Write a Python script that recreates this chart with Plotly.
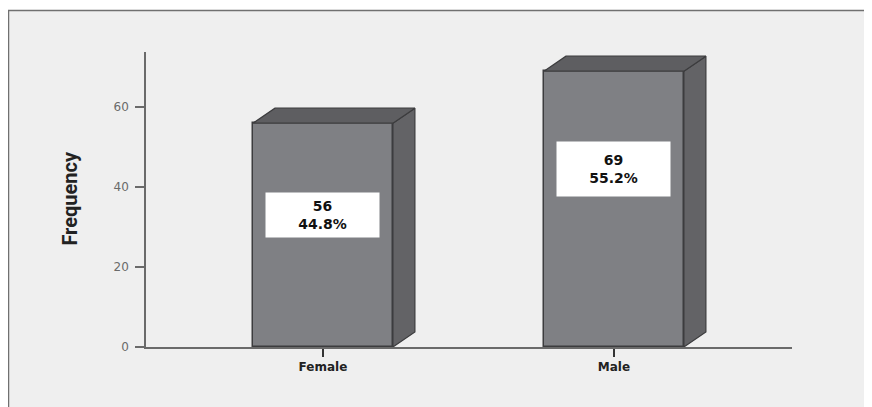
import plotly.graph_objects as go

categories = ["Female", "Male"]
counts = [56, 69]
percents = ["44.8%", "55.2%"]
y_ticks = [0, 20, 40, 60]

# style / geometry parameters (page body has an 8px margin)
OFF = 8
W, H = 872 - OFF, 407 - OFF
L, R, T, B = 146 - OFF, 80, 52 - OFF, 60
X_RANGE = [-0.608, 1.612]
Y_RANGE = [0, 73.8]
BAR_W = 0.481
DEPTH_X = 0.0756
DEPTH_Y = 3.75
LABEL_DROP = [23.0, 24.5]
LABEL_H = [40, 50]

FRONT = "#7f8084"
TOP = "#5e5e61"
SIDE = "#636366"
EDGE = "#3c3c3e"
AXIS = "#6a6a6a"

xs = list(range(len(categories)))
pw = W - L - R
ph = H - T - B

fig = go.Figure()

# top and side faces of the pseudo-3D bars, built from the data values
top_x, top_y, side_x, side_y = [], [], [], []
for c, v in zip(xs, counts):
    hw = BAR_W / 2
    top_x += [c - hw, c - hw + DEPTH_X, c + hw + DEPTH_X, c + hw, c - hw, None]
    top_y += [v, v + DEPTH_Y, v + DEPTH_Y, v, v, None]
    side_x += [c + hw, c + hw, c + hw + DEPTH_X, c + hw + DEPTH_X, c + hw, None]
    side_y += [0, v, v + DEPTH_Y, DEPTH_Y, 0, None]

fig.add_trace(go.Scatter(x=side_x, y=side_y, mode="lines", fill="toself",
                         fillcolor=SIDE, line=dict(color=EDGE, width=1.2),
                         hoverinfo="skip", showlegend=False))
fig.add_trace(go.Scatter(x=top_x, y=top_y, mode="lines", fill="toself",
                         fillcolor=TOP, line=dict(color=EDGE, width=1.2),
                         hoverinfo="skip", showlegend=False))
fig.add_trace(go.Bar(x=xs, y=counts, width=BAR_W,
                     marker=dict(color=FRONT, line=dict(color=EDGE, width=1.5)),
                     showlegend=False))

# value labels in white boxes
for c, v, p, d, h in zip(xs, counts, percents, LABEL_DROP, LABEL_H):
    fig.add_annotation(x=c, y=v - d, xref="x", yref="y",
                       text=f"{v}<br>{p}", showarrow=False,
                       font=dict(family="DejaVu Sans", size=14, color="#111111", weight="bold"),
                       bgcolor="white", width=109, height=h, borderpad=2,
                       align="center", valign="middle")

# y axis title
fig.add_annotation(x=(70 - OFF - L) / pw, y=0.503, xref="paper", yref="paper",
                   text="Frequency", textangle=-90, showarrow=False,
                   xanchor="center", yanchor="middle",
                   font=dict(family="Liberation Sans Narrow, Arial Narrow, Roboto, sans-serif",
                             size=20, color="#222222", weight="bold"))

# outer frame with light grey background
fig.add_shape(type="rect", xref="paper", yref="paper", layer="below",
              x0=(0.5 - L) / pw, x1=(W + 10 - L) / pw,
              y0=(H - B - (H + 10)) / ph, y1=(H - B - 2.5) / ph,
              fillcolor="#efefef", line=dict(color="#707070", width=1.5))

fig.update_layout(
    width=W, height=H,
    margin=dict(l=L, r=R, t=T, b=B, pad=0),
    paper_bgcolor="white",
    plot_bgcolor="rgba(0,0,0,0)",
    bargap=0,
    xaxis=dict(range=X_RANGE, tickvals=xs, ticktext=categories,
               showgrid=False, zeroline=False, showline=True,
               linecolor=AXIS, linewidth=1.5,
               ticks="outside", ticklen=8, tickwidth=1.5, tickcolor="#333333",
               tickfont=dict(family="DejaVu Sans", size=12, color="#222222", weight="bold"),
               ticklabelstandoff=0,
               fixedrange=True),
    yaxis=dict(range=Y_RANGE, tickvals=y_ticks,
               showgrid=False, zeroline=False, showline=True,
               linecolor=AXIS, linewidth=1.5,
               ticks="outside", ticklen=9, tickwidth=1.5, tickcolor=AXIS,
               tickfont=dict(family="DejaVu Sans", size=12, color="#6a6a6a"),
               ticklabelstandoff=4,
               fixedrange=True),
)

fig.write_html("out.html")
